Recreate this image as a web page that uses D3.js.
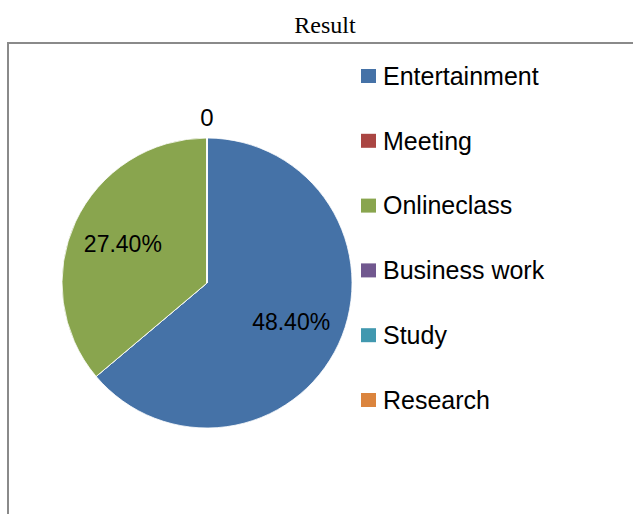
<!DOCTYPE html>
<html>
<head>
	<meta charset="utf-8">
	<style>
		body { margin: 0; background: #fff; }
		svg { display: block; }
	</style>
</head>
<body>

	<div id="chart"></div>

	<script src="https://cdn.jsdelivr.net/npm/d3@7/dist/d3.min.js"></script>

	<script>
		// chart data
		const categories = ['Entertainment', 'Meeting', 'Onlineclass', 'Business work', 'Study', 'Research'];
		const values = [48.4, 0, 27.4, 0, 0, 0];
		const colors = ['#4572A7', '#AA4643', '#89A54E', '#71588F', '#4198AF', '#DB843D'];
		const title = 'Result';

		const w = 633;
		const h = 514;

		const cx = 207;
		const cy = 283;
		const r = 145;

		const fmt = v => v === 0 ? '0' : d3.format('.2f')(v) + '%';

		const svg = d3.select('#chart')
			.append('svg')
			.attr('width', w)
			.attr('height', h);

		// outer frame (cut off at right and bottom)
		svg.append('path')
			.attr('d', `M${w + 5},43 H8 V${h + 5}`)
			.attr('fill', 'none')
			.attr('stroke', '#8a8a8a')
			.attr('stroke-width', 2);

		svg.append('text')
			.attr('x', 325)
			.attr('y', 33)
			.attr('text-anchor', 'middle')
			.style('font-family', '"Liberation Serif", "Times New Roman", serif')
			.style('font-size', '24px')
			.text(title);

		const data = categories.map((c, i) => ({ name: c, value: values[i], color: colors[i] }));

		const pie = d3.pie()
			.value(d => d.value)
			.sort(null);

		const arcs = pie(data);

		const arc = d3.arc().innerRadius(0).outerRadius(r);
		const labelArc = d3.arc().innerRadius(r * 0.64).outerRadius(r * 0.64);
		const outerArc = d3.arc().innerRadius(r + 20).outerRadius(r + 20);

		const g = svg.append('g')
			.attr('transform', `translate(${cx}, ${cy})`);

		g.selectAll('path')
			.data(arcs)
			.join('path')
			.attr('d', arc)
			.attr('fill', d => d.data.color)
			.attr('stroke', '#fff')
			.attr('stroke-width', 0.8);

		const labelFont = '"Liberation Sans Narrow", "Liberation Sans", Arial, sans-serif';

		// labels of non-zero slices sit inside
		g.selectAll('text.inner')
			.data(arcs.filter(d => d.data.value > 0))
			.join('text')
			.attr('class', 'inner')
			.attr('transform', d => `translate(${labelArc.centroid(d)})`)
			.attr('text-anchor', 'middle')
			.attr('dy', '0.35em')
			.style('font-family', labelFont)
			.style('font-size', '23px')
			.text(d => fmt(d.data.value));

		// zero slices at the end of the circle stack up at the top
		g.selectAll('text.outer')
			.data(arcs.filter(d => d.data.value === 0 && d.startAngle >= 2 * Math.PI - 1e-6).slice(-1))
			.join('text')
			.attr('class', 'outer')
			.attr('transform', d => `translate(${outerArc.centroid(d)})`)
			.attr('text-anchor', 'middle')
			.attr('dy', '0.35em')
			.style('font-family', labelFont)
			.style('font-size', '24px')
			.text(d => fmt(d.data.value));

		// legend
		const legend = svg.append('g')
			.attr('transform', 'translate(361, 76)');

		const item = legend.selectAll('g')
			.data(data)
			.join('g')
			.attr('transform', (d, i) => `translate(0, ${i * 64.8})`);

		item.append('rect')
			.attr('x', 0)
			.attr('y', -7)
			.attr('width', 15)
			.attr('height', 14)
			.attr('fill', d => d.color);

		item.append('text')
			.attr('x', 22)
			.attr('dy', '0.35em')
			.style('font-family', labelFont)
			.style('font-size', '25px')
			.text(d => d.name);
	</script>

</body>
</html>
